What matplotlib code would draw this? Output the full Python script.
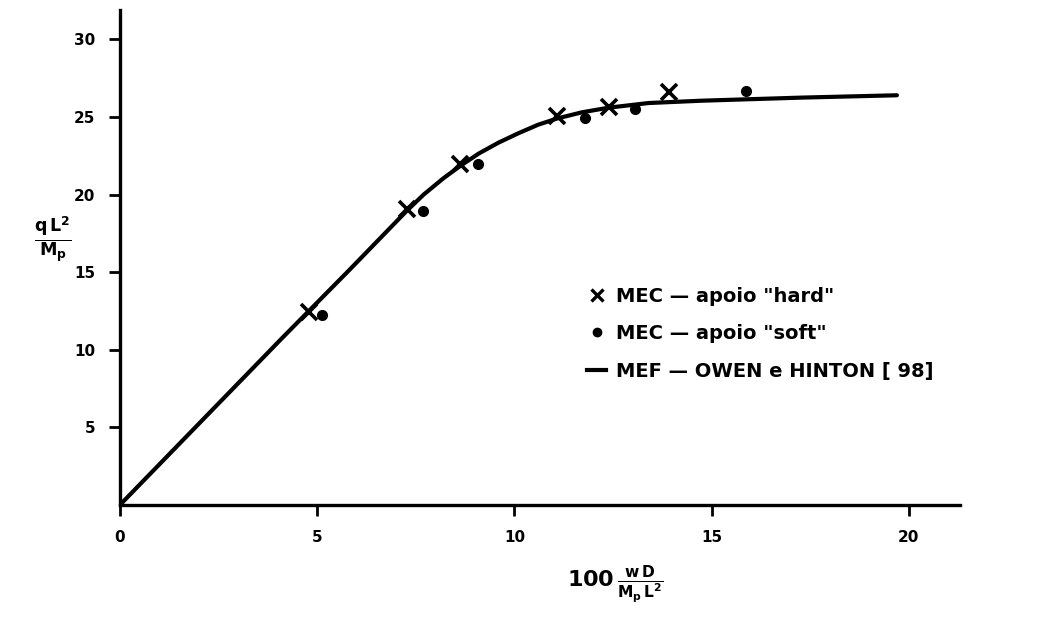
import matplotlib
matplotlib.use("Agg")
import matplotlib.pyplot as plt
from matplotlib.lines import Line2D

# MEF curve (Owen & Hinton)
curve_x = [0.0, 4.11, 5.80, 6.64, 7.27, 7.70, 8.20, 8.63, 9.10, 9.60, 10.10,
           10.60, 11.08, 11.71, 12.39, 13.40, 14.75, 17.29, 19.70]
curve_y = [0.0, 10.75, 15.10, 17.30, 18.95, 20.00, 21.05, 21.85, 22.65, 23.35,
           23.95, 24.50, 24.90, 25.30, 25.60, 25.90, 26.05, 26.25, 26.40]

# MEC results, "hard" support
hard_x = [4.80, 7.27, 8.63, 11.08, 12.39, 13.93]
hard_y = [12.43, 19.10, 21.98, 25.05, 25.63, 26.60]

# MEC results, "soft" support
soft_x = [5.12, 7.69, 9.07, 11.79, 13.06, 15.88]
soft_y = [12.21, 18.97, 21.94, 24.95, 25.53, 26.66]

x_ticks = [0, 5, 10, 15, 20]
y_ticks = [5, 10, 15, 20, 25, 30]

plt.rcParams["font.family"] = ["DejaVu Sans"]
plt.rcParams["font.weight"] = "bold"
plt.rcParams["mathtext.default"] = "bf"

fig = plt.figure(figsize=(10.39, 6.21), dpi=100)
ax = fig.add_axes([0.1155, 0.187, 0.8085, 0.797])

ax.plot(curve_x, curve_y, color="black", lw=3.0, solid_capstyle="round",
        solid_joinstyle="round")
ax.plot(hard_x, hard_y, linestyle="none", marker="x", ms=11, mew=2.6, color="black")
ax.plot(soft_x, soft_y, linestyle="none", marker="o", ms=7, color="black")

ax.set_xlim(0, 21.3)
ax.set_ylim(0, 31.9)

for side in ("top", "right"):
    ax.spines[side].set_visible(False)
for side in ("left", "bottom"):
    ax.spines[side].set_linewidth(2.4)

ax.set_xticks(x_ticks)
ax.set_yticks(y_ticks)
ax.tick_params(axis="both", direction="out", length=8, width=2.0,
               labelsize=11, pad=10)
for lab in ax.get_xticklabels() + ax.get_yticklabels():
    lab.set_fontweight("bold")

ax.set_ylabel(r"$\frac{q\,L^2}{M_p}$", rotation=0, fontsize=18,
              ha="center", va="center")
ax.yaxis.set_label_coords(-0.08, 0.535)
ax.set_xlabel(r"$100\,\frac{w\,D}{M_p\,L^2}$", fontsize=16)
ax.xaxis.set_label_coords(0.59, -0.12)

handles = [
    Line2D([], [], linestyle="none", marker="x", ms=8, mew=2.4, color="black"),
    Line2D([], [], linestyle="none", marker="o", ms=6, color="black"),
    Line2D([], [], color="black", lw=3.0),
]
labels = ['MEC — apoio "hard"', 'MEC — apoio "soft"', "MEF — OWEN e HINTON [ 98]"]
ax.legend(handles, labels, loc="upper left", bbox_to_anchor=(0.535, 0.476),
          frameon=False, handlelength=1.0, handletextpad=0.5, labelspacing=0.95,
          prop={"size": 14, "weight": "bold"})

fig.savefig("out.png", dpi=100)
